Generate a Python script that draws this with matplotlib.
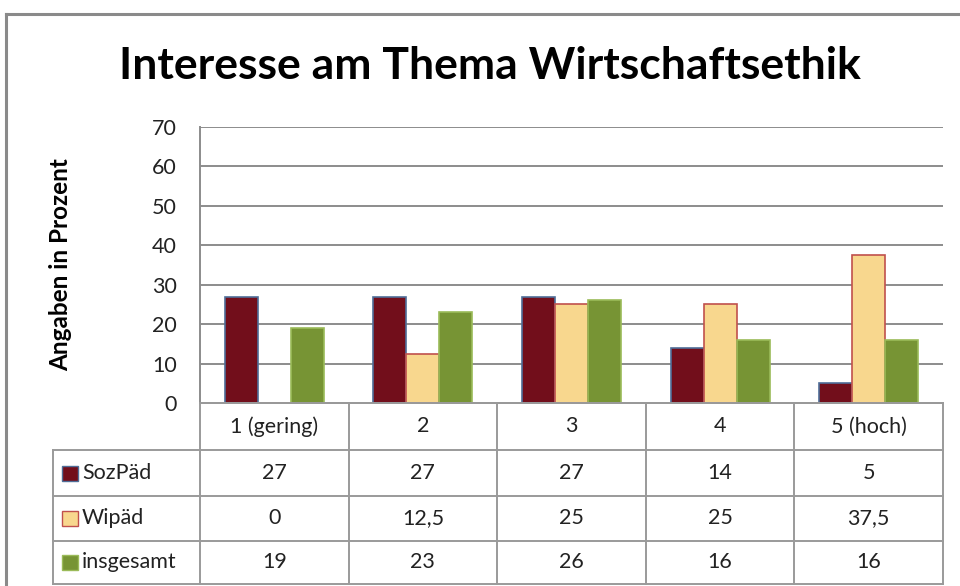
import matplotlib
matplotlib.use("Agg")
import matplotlib.pyplot as plt
import numpy as np

categories = ["1 (gering)", "2", "3", "4", "5 (hoch)"]
series_names = ["SozPäd", "Wipäd", "insgesamt"]
sozpaed = [27, 27, 27, 14, 5]
wipaed = [0, 12.5, 25, 25, 37.5]
insgesamt = [19, 23, 26, 16, 16]
y_ticks = [0, 10, 20, 30, 40, 50, 60, 70]
title = "Interesse am Thema Wirtschaftsethik"
y_label = "Angaben in Prozent"

face_colors = ["#720E1B", "#F8D78E", "#779434"]
edge_colors = ["#4F6E98", "#C0504D", "#9BBB59"]

plt.rcParams['font.family'] = ['Lato', 'DejaVu Sans']

W, H = 960, 586
fig = plt.figure(figsize=(W / 100, H / 100), dpi=100)

# plot area in pixel coords
px_l, px_r, px_t, px_b = 200, 943, 127, 403
ax = fig.add_axes([px_l / W, 1 - px_b / H, (px_r - px_l) / W, (px_b - px_t) / H])

series = [sozpaed, wipaed, insgesamt]
n = len(categories)
x = np.arange(n)
bw = 1 / 4.5
for i, vals in enumerate(series):
    ax.bar(x + (i - 1) * bw, vals, width=bw, color=face_colors[i],
           edgecolor=edge_colors[i], linewidth=1.2, zorder=3)

ax.set_xlim(-0.5, n - 0.5)
ax.set_ylim(0, 70)
ax.set_yticks(y_ticks)
ax.set_yticklabels([str(t) for t in y_ticks], fontsize=15.5, color="#222222")
ax.tick_params(axis='y', length=0, pad=16.5)
ax.set_xticks([])
ax.grid(axis='y', color="#8C8C8C", linewidth=1.4, zorder=0)
for s in ["top", "right"]:
    ax.spines[s].set_visible(False)
ax.spines["left"].set_color("#8C8C8C")
ax.spines["left"].set_linewidth(1.4)
ax.spines["bottom"].set_color("#8C8C8C")
ax.spines["bottom"].set_linewidth(1.4)

# overlay axes in pixel coordinates for table, title, border
ov = fig.add_axes([0, 0, 1, 1], zorder=5)
ov.set_xlim(0, W)
ov.set_ylim(H, 0)
ov.axis("off")
ov.patch.set_alpha(0)

lc = "#9A9A9A"
lw = 1.4
# outer border
ov.plot([6, W + 5], [14, 14], color="#8A8A8A", lw=2.2)
ov.plot([6, 6], [14, H + 5], color="#8A8A8A", lw=2.2)

ov.text(490, 66, title, ha="center", va="center", fontsize=32, fontweight="bold", color="black")
ov.text(61, 265, y_label, ha="center", va="center", rotation=90, fontsize=17.5,
        fontweight="bold", color="black")

# table geometry
col_edges = np.linspace(px_l, px_r, n + 1)
row_edges = [403, 450, 496, 541, 584]
row_head_l = 53

# horizontal lines
ov.plot([px_l, px_r], [row_edges[0], row_edges[0]], color=lc, lw=lw)
for yy in row_edges[1:]:
    ov.plot([row_head_l, px_r], [yy, yy], color=lc, lw=lw)
# vertical lines
for xx in col_edges:
    ov.plot([xx, xx], [row_edges[0], row_edges[-1]], color=lc, lw=lw)
ov.plot([row_head_l, row_head_l], [row_edges[1], row_edges[-1]], color=lc, lw=lw)

fs = 15.5
def fmt(v):
    s = ("%g" % v)
    return s.replace(".", ",")

for j, c in enumerate(categories):
    cx = (col_edges[j] + col_edges[j + 1]) / 2
    ov.text(cx, (row_edges[0] + row_edges[1]) / 2, c, ha="center", va="center",
            fontsize=fs, color="#222222")

for i, (name, vals) in enumerate(zip(series_names, series)):
    y0, y1 = row_edges[i + 1], row_edges[i + 2]
    cy = (y0 + y1) / 2
    ov.add_patch(plt.Rectangle((62, cy - 7.5), 16, 15, facecolor=face_colors[i],
                               edgecolor=edge_colors[i], lw=1.0))
    ov.text(82, cy, name, ha="left", va="center", fontsize=fs, color="#222222")
    for j, v in enumerate(vals):
        cx = (col_edges[j] + col_edges[j + 1]) / 2
        ov.text(cx, cy, fmt(v), ha="center", va="center", fontsize=fs, color="#222222")

fig.savefig("out.png", dpi=100)
